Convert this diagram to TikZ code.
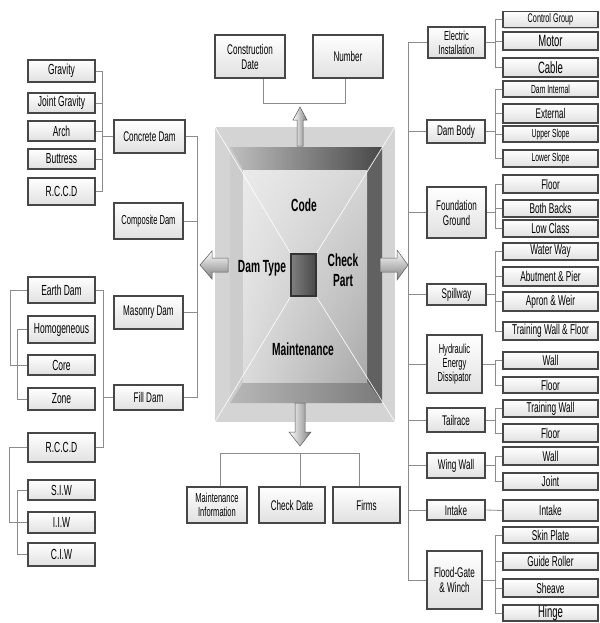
\documentclass[tikz,border=0pt]{standalone}
\usepackage{fontspec}
\setmainfont{Liberation Sans}[FakeStretch=0.58]
\usetikzlibrary{shadows,shadings}
\newcommand\mkbox[7][]{\node[bx,minimum width=#5pt,minimum height=#6pt,#1] (#2) at (#3,#4) {#7};}
\begin{document}
\begin{tikzpicture}[x=1pt,y=-1pt,
  bx/.style={draw=black!72, line width=1.9pt, top color=white, bottom color=black!12,
    inner sep=0pt, align=center, font=\fontsize{14}{15}\selectfont,
    drop shadow={shadow xshift=1.2pt, shadow yshift=-1.2pt, opacity=0.35}},
  fl/.style={font=\fontsize{14.6}{15}\selectfont},
  fr/.style={font=\fontsize{14.3}{15}\selectfont},
  fs/.style={font=\fontsize{11.7}{13}\selectfont},
  fc/.style={font=\fontsize{12.5}{13}\selectfont},
  fm/.style={font=\fontsize{13}{14}\selectfont},
  fb/.style={font=\fontsize{16.4}{17}\selectfont},
  conn/.style={draw=black!45, line width=0.8pt},
  ctext/.style={font=\fontsize{17.6}{19.5}\selectfont\bfseries, align=center, inner sep=0pt},
  arr/.style={draw=black!65, line width=0.5pt}]
\useasboundingbox (0,0) rectangle (599,623);
\fill[white] (0,0) rectangle (599,623);

% ---------- central block ----------
\fill[black!17] (215,127) rectangle (395,422);
\shade[left color=black!25, right color=black!72] (230,147) -- (382,147) -- (367,170) -- (243,170) -- cycle;
\fill[black!62] (382,147) -- (382,403) -- (367,382) -- (367,170) -- cycle;
\shade[left color=black!28, right color=black!52] (230,403) -- (382,403) -- (367,382) -- (243,382) -- cycle;
\fill[black!20] (230,147) -- (243,170) -- (243,382) -- (230,403) -- cycle;
\shade[upper left=black!8, upper right=black!16, lower left=black!14, lower right=black!34] (243,170) rectangle (367,382);
\draw[white, line width=0.6pt] (215,127) -- (291,254) (395,127) -- (316,254) (215,422) -- (291,296) (395,422) -- (316,296);
\shade[left color=black!50, right color=black!72, draw=black!80, line width=1.5pt] (291,254) rectangle (316,296);
\node[ctext] (code) at (304,205) {Code};
\node[ctext] (damtype) at (262,268) {Dam Type};
\node[ctext] (checkpart) at (343,270) {Check\\Part};
\node[ctext] (maint) at (303,349) {Maintenance};

% arrows
\shade[arr, left color=white, right color=black!50] (297,146) -- (297,120) -- (293,120) -- (300,107) -- (307,120) -- (303,120) -- (303,146) -- cycle;
\shade[arr, left color=white, right color=black!50] (295,403) -- (295,432) -- (289,432) -- (300,446) -- (311,432) -- (305,432) -- (305,403) -- cycle;
\shade[arr, top color=white, bottom color=black!50] (228,258) -- (212,258) -- (212,251) -- (200,265) -- (212,279) -- (212,272) -- (228,272) -- cycle;
\shade[arr, top color=white, bottom color=black!50] (380,258) -- (397,258) -- (397,250) -- (408,265) -- (397,280) -- (397,272) -- (380,272) -- cycle;

% ---------- top ----------
\mkbox{cdate}{250}{56.5}{70}{43}{Construction\\Date}
\mkbox{number}{348}{56.5}{70}{43}{Number}
\coordinate (topline) at (0,103);
\draw[conn] ([xshift=13pt]cdate.south) |- ([xshift=-3pt]number.south |- topline) -- ([xshift=-3pt]number.south);

% ---------- bottom ----------
\mkbox[fm]{minfo}{217}{505}{60}{36}{Maintenance\\Information}
\mkbox{cdatebot}{292}{505}{66}{36}{Check Date}
\mkbox{firms}{366.5}{505}{67}{36}{Firms}
\coordinate (botline) at (0,453);
\draw[conn] ([xshift=3pt]minfo.north) |- ([xshift=-7pt]firms.north |- botline) -- ([xshift=-7pt]firms.north);
\draw[conn] ([xshift=8pt]cdatebot.north) -- ([xshift=8pt]cdatebot.north |- botline);

% ---------- left ----------
\mkbox[fl]{grav}{61.5}{71}{67}{22}{Gravity}
\mkbox[fl]{jgrav}{61.5}{103}{67}{20}{Joint Gravity}
\mkbox[fl]{arch}{61.5}{131}{67}{20}{Arch}
\mkbox[fl]{butt}{61.5}{159}{67}{20}{Buttress}
\mkbox[fl]{rccda}{61.5}{191.5}{67}{27}{R.C.C.D}
\mkbox[fl]{earth}{61.5}{290}{67}{26}{Earth Dam}
\mkbox[fl]{homo}{61.5}{329.5}{67}{27}{Homogeneous}
\mkbox[fl]{core}{61.5}{365}{67}{20}{Core}
\mkbox[fl]{zone}{61.5}{399}{67}{22}{Zone}
\mkbox[fl]{rccdb}{61.5}{447.5}{67}{29}{R.C.C.D}
\mkbox[fl]{siw}{61.5}{490}{67}{20}{S.I.W}
\mkbox[fl]{iiw}{61.5}{522.5}{67}{21}{I.I.W}
\mkbox[fl]{ciw}{61.5}{554.5}{67}{23}{C.I.W}

\mkbox{concrete}{149.5}{136.5}{71}{33}{Concrete Dam}
\mkbox[fm]{composite}{148.5}{221}{69}{36}{Composite Dam}
\mkbox{masonry}{148.5}{312.5}{69}{33}{Masonry Dam}
\mkbox{filldam}{148.5}{397.5}{69}{25}{Fill Dam}

\coordinate (la) at (102,0);
\coordinate (lb) at (197,0);
\coordinate (lc) at (103,0);
\coordinate (ld) at (10,0);
\coordinate (le) at (17,0);
\coordinate (lf) at (9,0);

\draw[conn] (grav.east) -| (la |- rccda.east) -- (rccda.east);
\foreach \n in {jgrav,arch,butt} \draw[conn] (\n.east) -- (\n.east -| la);
\draw[conn] (concrete.west) -- (concrete.west -| la);
\draw[conn] (concrete.east) -| (lb |- filldam.east) -- (filldam.east);
\foreach \n in {composite,masonry} \draw[conn] (\n.east) -- (\n.east -| lb);
\draw[conn] (earth.east) -| (lc |- rccdb.east) -- (rccdb.east);
\draw[conn] (filldam.west) -- (filldam.west -| lc);
\draw[conn] (earth.west) -| (ld |- core.west) -- (core.west);
\draw[conn] (homo.west) -| (le |- zone.west) -- (zone.west);
\draw[conn] (rccdb.west) -| (lf |- iiw.west) -- (iiw.west);
\draw[conn] (siw.west) -| (le |- ciw.west) -- (ciw.west);

% ---------- right ----------
\mkbox[fm]{elec}{456.5}{42.5}{57}{31}{Electric\\Installation}
\mkbox{dambody}{456}{131.5}{58}{23}{Dam Body}
\mkbox{found}{456.5}{212.5}{59}{51}{Foundation\\Ground}
\mkbox{spill}{456.5}{294.5}{59}{21}{Spillway}
\mkbox[fm]{hyd}{454.5}{364}{55}{58}{Hydraulic\\Energy\\Dissipator}
\mkbox{tail}{456}{420}{58}{24}{Tailrace}
\mkbox{wing}{456}{465.5}{58}{25}{Wing Wall}
\mkbox{intakec}{456}{510}{58}{20}{Intake}
\mkbox{flood}{454.5}{580}{55}{58}{Flood-Gate\\\& Winch}

\mkbox[fc]{cgroup}{550.5}{19.5}{95}{16}{Control Group}
\mkbox[fb]{motor}{550.5}{41}{95}{18}{Motor}
\mkbox[fb]{cable}{550.5}{67.5}{95}{19}{Cable}
\mkbox[fs]{daminternal}{550.5}{89}{95}{16}{Dam Internal}
\mkbox{external}{550.5}{113.5}{95}{19}{External}
\mkbox[fs]{upper}{550.5}{134}{95}{16}{Upper Slope}
\mkbox[fs]{lower}{550.5}{158.5}{95}{17}{Lower Slope}
\mkbox{ffloor}{550.5}{184}{95}{18}{Floor}
\mkbox[fr]{backs}{550.5}{208.5}{95}{17}{Both Backs}
\mkbox[fr]{lowclass}{550.5}{228.5}{95}{17}{Low Class}
\mkbox[fr]{waterway}{550.5}{251.5}{95}{17}{Water Way}
\mkbox[fr]{abut}{550.5}{276.5}{95}{19}{Abutment \& Pier}
\mkbox[fr]{apron}{550.5}{301.5}{95}{19}{Apron \& Weir}
\mkbox[fr]{training}{550.5}{331}{95}{18}{Training Wall \& Floor}
\mkbox[fr]{hwall}{550.5}{360.5}{95}{17}{Wall}
\mkbox[fr]{hfloor}{550.5}{385}{95}{16}{Floor}
\mkbox[fr]{twall}{550.5}{408.5}{95}{17}{Training Wall}
\mkbox[fr]{tfloor}{550.5}{433}{95}{18}{Floor}
\mkbox[fr]{wwall}{550.5}{456}{95}{18}{Wall}
\mkbox[fr]{joint}{550.5}{481.5}{95}{17}{Joint}
\mkbox[fr]{intake}{550.5}{510.5}{95}{21}{Intake}
\mkbox[fr]{skin}{550.5}{535}{95}{16}{Skin Plate}
\mkbox[fr]{guide}{550.5}{561.5}{95}{17}{Guide Roller}
\mkbox[fr]{sheave}{550.5}{588}{95}{18}{Sheave}
\mkbox[fb]{hinge}{550.5}{613}{95}{16}{Hinge}

\coordinate (rbus) at (408,0);
\coordinate (rsub) at (495,0);
\draw[conn] (elec.west) -| (rbus |- flood.west) -- (flood.west);
\foreach \n in {dambody,found,spill,hyd,tail,wing,intakec} \draw[conn] (\n.west) -- (\n.west -| rbus);

\draw[conn] (cgroup.west) -| (rsub |- cable.west) -- (cable.west);
\draw[conn] (motor.west) -- (motor.west -| rsub);
\draw[conn] (elec.east) -- (elec.east -| rsub);

\draw[conn] (daminternal.west) -| (rsub |- lower.west) -- (lower.west);
\draw[conn] (external.west) -- (external.west -| rsub);
\draw[conn] (upper.west) -- (upper.west -| rsub);
\draw[conn] (dambody.east) -- (dambody.east -| rsub);

\draw[conn] (ffloor.west) -| (rsub |- lowclass.west) -- (lowclass.west);
\draw[conn] (backs.west) -- (backs.west -| rsub);
\draw[conn] (found.east) -- (found.east -| rsub);

\draw[conn] (waterway.west) -| (rsub |- training.west) -- (training.west);
\draw[conn] (abut.west) -- (abut.west -| rsub);
\draw[conn] (apron.west) -- (apron.west -| rsub);
\draw[conn] (spill.east) -- (spill.east -| rsub);

\draw[conn] (hwall.west) -| (rsub |- hfloor.west) -- (hfloor.west);
\draw[conn] (hyd.east) -- (hyd.east -| rsub);

\draw[conn] (twall.west) -| (rsub |- tfloor.west) -- (tfloor.west);
\draw[conn] (tail.east) -- (tail.east -| rsub);

\draw[conn] (wwall.west) -| (rsub |- joint.west) -- (joint.west);
\draw[conn] (wing.east) -- (wing.east -| rsub);

\draw[conn] (intakec.east) -- (intake.west);

\draw[conn] (skin.west) -| (rsub |- hinge.west) -- (hinge.west);
\draw[conn] (guide.west) -- (guide.west -| rsub);
\draw[conn] (sheave.west) -- (sheave.west -| rsub);
\draw[conn] (flood.east) -- (flood.east -| rsub);
\end{tikzpicture}
\end{document}
